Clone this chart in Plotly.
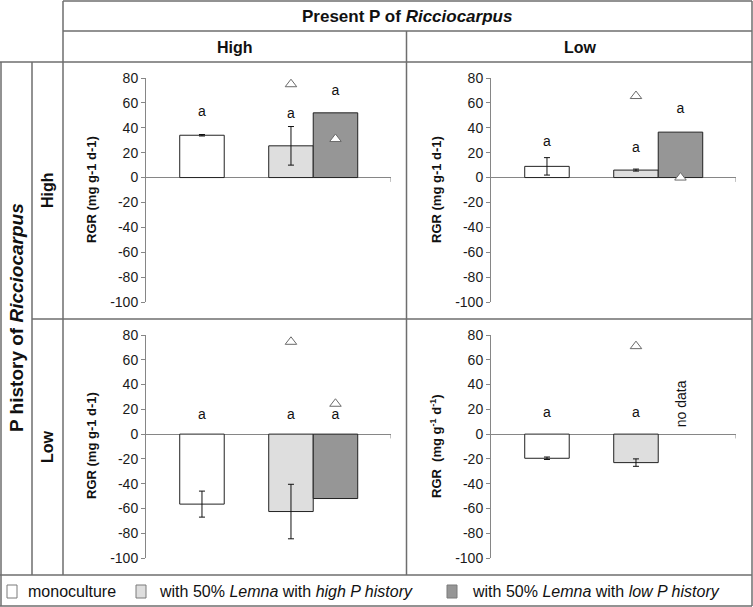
import plotly.graph_objects as go
from plotly.subplots import make_subplots

W, H = 753, 607
FONT = "Liberation Sans, Arial, sans-serif"

# panels in reading order: (history, present)
panel_history = ["High", "High", "Low", "Low"]
panel_present = ["High", "Low", "High", "Low"]

series_names = ["monoculture", "with 50% Lemna with high P history", "with 50% Lemna with low P history"]

# RGR of Ricciocarpus (mg g-1 d-1), one value per panel
mono_rgr = [34.0, 9.0, -56.5, -19.5]
mono_err = [0.6, 7.0, 10.5, 1.0]
lemna_high_rgr = [25.5, 6.0, -62.5, -23.0]
lemna_high_err = [15.5, 0.8, 22.0, 3.0]
lemna_low_rgr = [52.0, 36.5, -52.0, None]
lemna_low_err = [None, None, None, None]

# open triangles drawn over the mixed bars
tri_lemna_high = [75.0, 65.5, 74.5, 71.0]
tri_lemna_low = [31.0, 0.0, 24.5, None]

# significance letters and their heights
letters = ["a", "a", "a", "a"]
letter_y_mono = [52.5, 28.0, 15.0, 17.0]
letter_y_high = [51.0, 23.0, 15.0, 17.0]
letter_y_low = [69.0, 54.5, 15.0, None]

y_ticks = [-100, -80, -60, -40, -20, 0, 20, 40, 60, 80]
y_tick_labels = ["-100", "-80", "-60", "-40", "-20", "0", "20", "40", "60", "80"]

# layout: slot of each series on the x axis, bar width, colours
SLOT = [0.0, 1.0, 1.5]
BAR_W = 0.5
XR = [-0.629, 2.124]
FILLS = ["#ffffff", "#dedede", "#969696"]
AXIS_GRAY = "#868686"
FRAME = "#6e6e6e"


def px(x):
    return x / W


def py(y):
    return 1 - y / H


def note(text, x, y, size, angle=0, xanchor="center"):
    fig.add_annotation(text=text, xref="paper", yref="paper", x=px(x), y=py(y),
                       xanchor=xanchor, yanchor="middle", textangle=angle,
                       showarrow=False, font=dict(family=FONT, size=size, color="#111111"))


fig = make_subplots(rows=2, cols=2)

values = [mono_rgr, lemna_high_rgr, lemna_low_rgr]
errors = [mono_err, lemna_high_err, lemna_low_err]
letter_y = [letter_y_mono, letter_y_high, letter_y_low]
tris = [None, tri_lemna_high, tri_lemna_low]

for i in range(4):
    row, col = i // 2 + 1, i % 2 + 1
    for s in range(3):
        v = values[s][i]
        if v is None:
            continue
        e = errors[s][i]
        fig.add_trace(go.Bar(
            x=[SLOT[s]], y=[v], width=BAR_W, name=series_names[s],
            marker=dict(color=FILLS[s], line=dict(color="#222222", width=1)),
            error_y=dict(type="data", array=[e if e is not None else 0],
                         visible=e is not None, color="#111111", thickness=1, width=3),
        ), row=row, col=col)
    for s in range(3):
        ly = letter_y[s][i]
        if ly is None:
            continue
        fig.add_trace(go.Scatter(
            x=[SLOT[s]], y=[ly], mode="text", text=[letters[i]],
            textposition="middle center",
            textfont=dict(family=FONT, size=14, color="#111111"),
        ), row=row, col=col)
    for s in (1, 2):
        t = tris[s][i]
        if t is None:
            continue
        fig.add_trace(go.Scatter(
            x=[SLOT[s]], y=[t], mode="markers",
            marker=dict(symbol="triangle-up", size=10, color="white",
                        line=dict(color="#6a6a6a", width=1)),
        ), row=row, col=col)

x_dom = [[px(146), px(391)], [px(491), px(736)]]
y_dom = [[py(302), py(78)], [py(558), py(335)]]

for i in range(4):
    r, c = i // 2, i % 2
    sfx = "" if i == 0 else str(i + 1)
    fig.layout["xaxis" + sfx].update(domain=x_dom[c], range=XR, visible=False,
                                     fixedrange=True, automargin=False)
    fig.layout["yaxis" + sfx].update(
        domain=y_dom[r], range=[-100, 80], tickvals=y_ticks, ticktext=y_tick_labels,
        automargin=False,
        showline=True, linecolor=AXIS_GRAY, linewidth=1,
        ticks="outside", ticklen=4, tickcolor=AXIS_GRAY,
        showgrid=False, zeroline=True, zerolinecolor=AXIS_GRAY, zerolinewidth=1,
        tickfont=dict(family=FONT, size=14, color="#1a1a1a"),
    )
    # small tick at the right end of the category axis
    fig.add_shape(type="line", xref="x" + sfx, yref="y" + sfx,
                  x0=XR[1], x1=XR[1], y0=0, y1=-3.5,
                  line=dict(color=AXIS_GRAY, width=1))
    title = "RGR  (mg g<sup>-1</sup> d<sup>-1</sup>)" if i == 3 else "RGR (mg g-1 d-1)"
    note("<b>" + title + "</b>", 91 + c * 345, [190, 446][r], 13, angle=-90)

# "no data" note in the last panel
fig.add_annotation(text="no data", xref="x4", yref="y4", x=SLOT[2], y=24.5,
                   xanchor="center", yanchor="middle", textangle=-90, showarrow=False,
                   font=dict(family=FONT, size=14, color="#111111"))

# table frame
frame_lines = [
    (63, 1, 752, 1), (63, 31, 752, 31), (0, 62, 752, 62), (32, 319, 752, 319),
    (0, 575, 752, 575), (0, 606, 752, 606),
    (1, 62, 1, 606), (32, 62, 32, 575), (63, 1, 63, 575), (406.5, 31, 406.5, 575),
    (752, 1, 752, 606),
]
for x0, y0, x1, y1 in frame_lines:
    fig.add_shape(type="line", xref="paper", yref="paper",
                  x0=px(x0), y0=py(y0), x1=px(x1), y1=py(y1),
                  line=dict(color=FRAME, width=1.5))

note("<b>Present P of <i>Ricciocarpus</i></b>", 407, 17, 17)
note("<b>" + panel_present[0] + "</b>", 235, 47, 16)
note("<b>" + panel_present[1] + "</b>", 580, 47, 16)
note("<b>P history of <i>Ricciocarpus</i></b>", 16, 318, 19, angle=-90)
note("<b>" + panel_history[0] + "</b>", 47, 190, 16, angle=-90)
note("<b>" + panel_history[2] + "</b>", 47, 447, 16, angle=-90)

# legend row
legend_items = [
    (7, 26, "monoculture"),
    (136, 157, "with 50% <i>Lemna</i> with <i>high P history</i>"),
    (447, 470, "with 50% <i>Lemna</i> with <i>low P history</i>"),
]
for s, (bx, tx, txt) in enumerate(legend_items):
    fig.add_shape(type="rect", xref="paper", yref="paper",
                  x0=px(bx), x1=px(bx + 10), y0=py(598), y1=py(585),
                  fillcolor=FILLS[s], line=dict(color="#7a7a7a", width=1))
    note(txt, tx, 591, 16, xanchor="left")

fig.update_layout(
    width=W, height=H, margin=dict(l=0, r=0, t=0, b=0, pad=0, autoexpand=False),
    paper_bgcolor="white", plot_bgcolor="white",
    showlegend=False, barmode="overlay",
    font=dict(family=FONT),
)

pin_page = (
    "document.body.style.margin='0';document.body.style.padding='0';"
    "document.body.style.overflow='hidden';"
)
fig.write_html("out.html", config={"displayModeBar": False}, post_script=pin_page)
